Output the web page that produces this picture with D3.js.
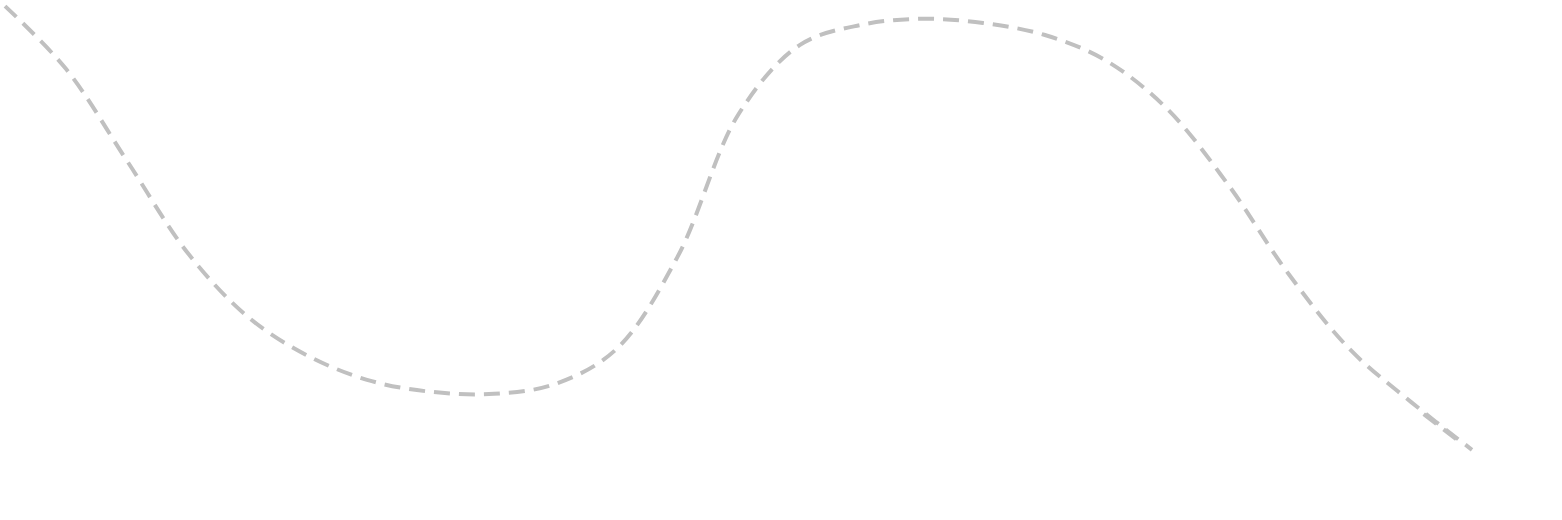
<!DOCTYPE html>
<html>
<head>
<meta charset="utf-8">
<script src="https://cdn.jsdelivr.net/npm/d3@7"></script>
<style>
  html, body { margin: 0; padding: 0; background: #ffffff; }
  svg { display: block; }
</style>
</head>
<body>
<svg id="chart" width="1562" height="520"></svg>
<script>
// Data (x = step index, y = value on a 0–100 scale)
const steps = [0, 1, 2, 3, 4, 5, 6, 7, 8, 9, 10, 11, 12, 13, 14, 15, 16, 17, 18, 19, 20, 21, 22, 23, 24];
const values = [98.7, 85.3, 65.7, 46.0, 32.3, 24.0, 18.9, 16.6, 16.2, 18.3, 25.7, 45.3, 75.7, 90.4,
                94.7, 96.0, 95.1, 92.6, 87.2, 77.0, 60.9, 41.7, 25.7, 14.5, 4.3];
// short overlapping segment near the end of the line
const tailSteps = [23.21, 23.78];
const tailValues = [11.9, 6.2];

const svg = d3.select("#chart");
const W = 1562, H = 520;
const margin = { left: 5, right: 90, top: 0, bottom: 50 };

const x = d3.scaleLinear()
  .domain([0, 24])
  .range([margin.left, W - margin.right]);
const y = d3.scaleLinear()
  .domain([0, 100])
  .range([470, 0]);

const data = steps.map((s, i) => ({ s, v: values[i] }));
const tail = tailSteps.map((s, i) => ({ s, v: tailValues[i] }));

const line = d3.line()
  .x(d => x(d.s))
  .y(d => y(d.v))
  .curve(d3.curveCatmullRom);

[data, tail].forEach(series => {
  svg.append("path")
    .datum(series)
    .attr("fill", "none")
    .attr("stroke", "#c0c0c0")
    .attr("stroke-width", 4)
    .attr("stroke-dasharray", "16,9")
    .attr("d", line);
});
</script>
</body>
</html>
